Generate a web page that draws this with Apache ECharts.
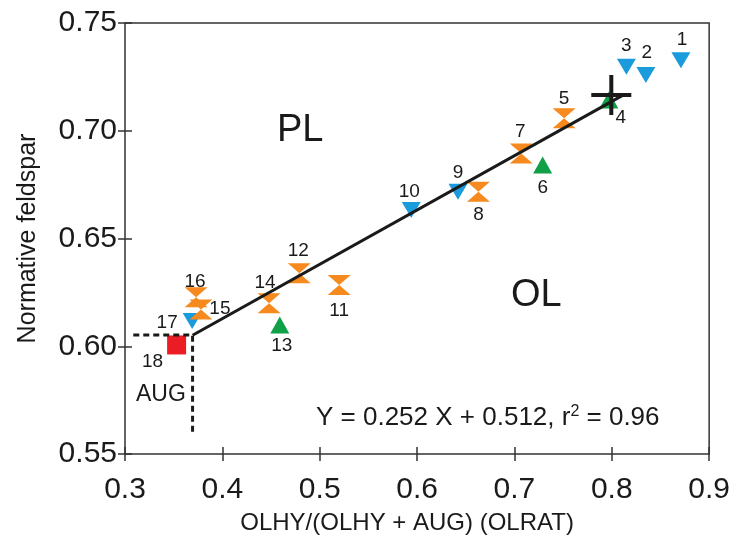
<!DOCTYPE html>
<html>
<head>
<meta charset="utf-8">
<script src="https://cdn.jsdelivr.net/npm/echarts@6/dist/echarts.min.js"></script>
<style>
  html, body { margin: 0; padding: 0; background: #fff; }
  #chart { width: 733px; height: 543px; }
</style>
</head>
<body>
<div id="chart"></div>
<script>
// sample numbers, OLRAT (x) and normative feldspar (y)
const sampleNo = [1, 2, 3, 4, 5, 6, 7, 8, 9, 10, 11, 12, 13, 14, 15, 16, 17, 18];
const olrat = [0.871, 0.835, 0.815, 0.797, 0.751, 0.729, 0.707, 0.663, 0.642, 0.594,
  0.520, 0.479, 0.459, 0.448, 0.378, 0.373, 0.369, 0.353];
const feldspar = [0.7327, 0.7259, 0.7297, 0.7143, 0.7058, 0.6841, 0.6895, 0.6717, 0.6717, 0.6632,
  0.6284, 0.6339, 0.6099, 0.6200, 0.6171, 0.6227, 0.6117, 0.6006];
const markerKind = ['down', 'down', 'down', 'up', 'hour', 'up', 'hour', 'hour', 'down', 'down',
  'hour', 'hour', 'up', 'hour', 'hour', 'hour', 'down', 'square'];

// regression Y = 0.252 X + 0.512
const fitSlope = 0.252;
const fitIntercept = 0.512;
const fitRange = [0.3694, 0.812];

// AUG end-member guide (dashed)
const augX = 0.3694;
const augY = 0.6052;
const augDashStart = [0.3085, 0.5597];

// "+" marker
const crossPoint = [0.7995, 0.7166];

// label offsets (px from marker centre)
const labelOffset = [[1, -21], [1, -22], [0, -21], [12, 18], [0, -19], [0, 23], [-1, -22], [0, 23],
  [0, -19], [-2, -18], [0, 26], [-1, -22], [2, 21], [-4, -20], [19, -1], [-1, -16], [-25, 2], [-24, 17]];

const kinds = {
  down: { symbol: 'path://M0,0 L20,0 L10,17 Z', size: [19, 16], color: '#1a9bdb' },
  up: { symbol: 'path://M10,0 L20,17 L0,17 Z', size: [19, 17], color: '#10a048' },
  hour: { symbol: 'path://M0,0 L20,0 L10,9 L20,18 L0,18 L10,9 Z', size: [23, 20], color: '#f68a1e' },
  square: { symbol: 'rect', size: [19, 19], color: '#ec1c24' }
};

const font = 'Liberation Sans, Arial, sans-serif';
const chart = echarts.init(document.getElementById('chart'));

const pointSeries = Object.keys(kinds).map(function (k) {
  const data = [];
  sampleNo.forEach(function (n, i) {
    if (markerKind[i] !== k) return;
    data.push({
      name: String(n),
      value: [olrat[i], feldspar[i]],
      label: { offset: labelOffset[i] }
    });
  });
  return {
    type: 'scatter',
    symbol: kinds[k].symbol,
    symbolSize: kinds[k].size,
    itemStyle: { color: kinds[k].color, opacity: 1 },
    label: {
      show: true, position: 'inside', formatter: '{b}',
      color: '#1a1a1a', fontSize: 19, fontFamily: font,
      textBorderWidth: 0
    },
    emphasis: { disabled: true },
    z: 2,
    data: data
  };
});

function axisPair(kind) {
  const isX = kind === 'x';
  const base = {
    type: 'value',
    min: isX ? 0.3 : 0.55,
    max: isX ? 0.9 : 0.75,
    interval: isX ? 0.1 : 0.05,
    splitLine: { show: false },
    axisLine: { show: false }
  };
  const outer = Object.assign({}, base, {
    position: isX ? 'bottom' : 'left',
    axisTick: { show: true, inside: false, length: 7, lineStyle: { color: '#333', width: 1.5 } },
    axisLabel: {
      color: '#1a1a1a', fontSize: 30, fontFamily: font,
      margin: isX ? 21 : 8,
      formatter: function (v) { return isX ? v.toFixed(1) : v.toFixed(2); }
    },
    name: isX ? 'OLHY/(OLHY + AUG) (OLRAT)' : 'Normative feldspar',
    nameLocation: 'middle',
    nameGap: isX ? 57 : 84,
    nameTextStyle: isX
      ? { color: '#1a1a1a', fontSize: 24, fontFamily: font, padding: [0, 20, 0, 0] }
      : { color: '#1a1a1a', fontSize: 25, fontFamily: font }
  });
  const inner = Object.assign({}, base, {
    position: isX ? 'bottom' : 'left',
    axisTick: { show: true, inside: true, length: 7, lineStyle: { color: '#333', width: 1.5 } },
    axisLabel: { show: false }
  });
  return [outer, inner];
}

chart.setOption({
  animation: false,
  backgroundColor: '#fff',
  grid: {
    left: 125, right: 23, top: 23, bottom: 89,
    show: true, borderColor: '#333', borderWidth: 1.5, backgroundColor: 'transparent'
  },
  xAxis: axisPair('x'),
  yAxis: axisPair('y'),
  series: pointSeries.concat([
    {
      type: 'line',
      data: fitRange.map(function (x) { return [x, fitSlope * x + fitIntercept]; }),
      symbol: 'none',
      lineStyle: { color: '#1a1a1a', width: 3 },
      z: 4
    },
    {
      type: 'line',
      data: [[augDashStart[0], augY], [augX, augY], [augX, augDashStart[1]]],
      symbol: 'none',
      lineStyle: { color: '#1a1a1a', width: 3, type: [6, 4] },
      z: 4
    },
    {
      type: 'scatter',
      data: [crossPoint],
      symbol: 'path://M0,18 H40 V22 H0 Z M18,0 H22 V40 H18 Z',
      symbolSize: 40,
      itemStyle: { color: '#1a1a1a', opacity: 1 },
      z: 5
    }
  ]),
  graphic: [
    { type: 'text', left: 277, top: 112, style: { text: 'PL', fontSize: 38, fontFamily: font, fill: '#1a1a1a' } },
    { type: 'text', left: 511, top: 277, style: { text: 'OL', fontSize: 38, fontFamily: font, fill: '#1a1a1a' } },
    { type: 'text', left: 136, top: 383, style: { text: 'AUG', fontSize: 23, fontFamily: font, fill: '#1a1a1a' } },
    {
      type: 'text', left: 316, top: 404,
      style: {
        text: 'Y = 0.252 X + 0.512, r{s|2} = 0.96',
        fontSize: 26, fontFamily: font, fill: '#1a1a1a',
        rich: { s: { fontSize: 16, verticalAlign: 'top', padding: [0, 0, 12, 0], fill: '#1a1a1a', fontFamily: font } }
      }
    }
  ]
});
</script>
</body>
</html>
